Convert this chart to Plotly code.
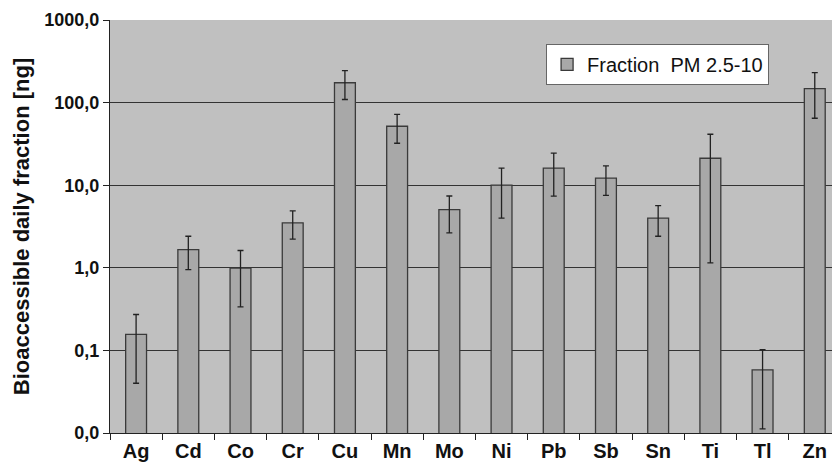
import plotly.graph_objects as go

elements = ["Ag", "Cd", "Co", "Cr", "Cu", "Mn", "Mo", "Ni", "Pb", "Sb", "Sn", "Ti", "Tl", "Zn"]
values = [0.156, 1.66, 0.99, 3.5, 174, 51.7, 5.07, 10.0, 16.1, 12.2, 4.0, 21.2, 0.058, 148]
err_high = [0.272, 2.41, 1.62, 4.89, 244, 72, 7.4, 16.1, 24.4, 17.1, 5.67, 41.4, 0.102, 230]
err_low = [0.040, 0.95, 0.337, 2.22, 109, 32.2, 2.65, 4.0, 7.36, 7.55, 2.41, 1.15, 0.0112, 64.6]
ytick_vals = [0.01, 0.1, 1, 10, 100, 1000]
ytick_text = ["0,0", "0,1", "1,0", "10,0", "100,0", "1000,0"]

plus = [h - v for h, v in zip(err_high, values)]
minus = [v - l for v, l in zip(values, err_low)]

fig = go.Figure()
fig.add_trace(go.Bar(
    x=elements, y=values, name="Fraction\u00a0 PM 2.5-10",
    marker=dict(color="#a8a8a8", line=dict(color="#3a3a3a", width=1.3)),
    width=0.4,
    error_y=dict(type="data", symmetric=False, array=plus, arrayminus=minus,
                 color="#222222", thickness=1.3, width=3),
))

fig.update_layout(
    width=832, height=469,
    margin=dict(l=110, r=0, t=20, b=36, autoexpand=False),
    paper_bgcolor="white", plot_bgcolor="#c0c0c0",
    font=dict(family="Liberation Sans, Arial, sans-serif", color="#111111"),
    showlegend=True,
    legend=dict(x=0.604, y=0.942, xanchor="left", yanchor="top",
                bgcolor="white", bordercolor="#666666", borderwidth=1,
                font=dict(size=20, color="#111111"), itemwidth=30),
)
fig.update_xaxes(
    type="category", range=[-0.5, 13.33],
    tickson="boundaries", ticks="outside", ticklen=6, tickcolor="#222222",
    showline=True, linecolor="#222222", linewidth=1.3,
    showgrid=False, automargin=False,
    tickfont=dict(size=20, weight="bold"),
)
fig.update_yaxes(
    type="log", range=[-2, 3],
    tickvals=ytick_vals, ticktext=ytick_text,
    ticks="outside", ticklen=6, tickcolor="#222222",
    showline=True, linecolor="#222222", linewidth=1.3,
    showgrid=True, gridcolor="#333333", gridwidth=1,
    tickfont=dict(size=18, weight="bold"), automargin=False,
    title=dict(text="Bioaccessible daily fraction [ng]", font=dict(size=22, weight="bold"), standoff=8),
)
fig.write_html("out.html", config={"displayModeBar": False},
               post_script="document.body.style.margin='0';document.body.style.overflow='hidden';")
